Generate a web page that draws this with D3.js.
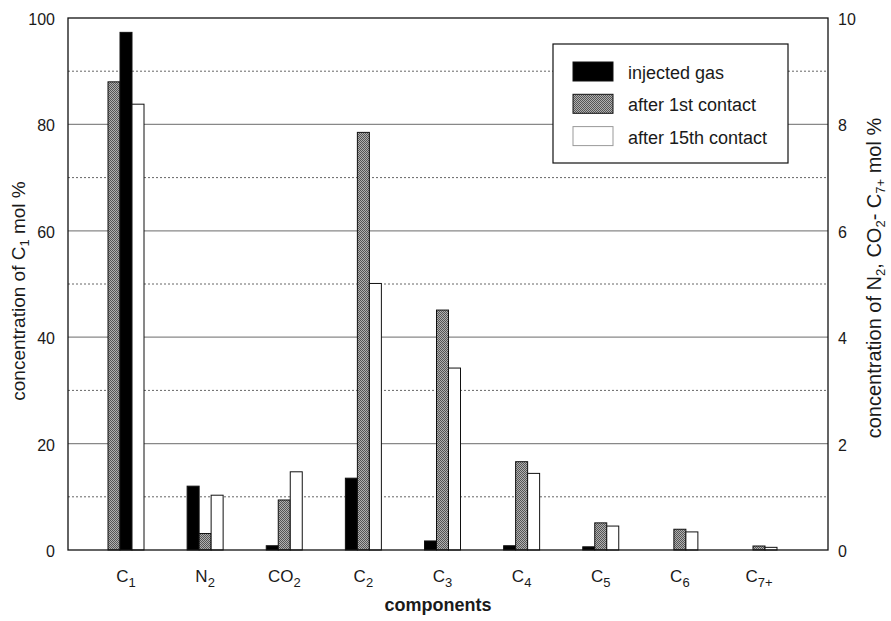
<!DOCTYPE html>
<html><head><meta charset="utf-8">
<script src="https://cdn.jsdelivr.net/npm/d3@7"></script>
<style>body{margin:0;background:#fff}svg{display:block}text{font-family:"Liberation Sans",Arial,Helvetica,sans-serif;fill:#1a1a1a}</style>
</head><body><svg id="c" width="891" height="621"></svg>
<script>
const categories = ["C1","N2","CO2","C2","C3","C4","C5","C6","C7+"];
const catBase = ["C","N","CO","C","C","C","C","C","C"];
const catSub = ["1","2","2","2","3","4","5","6","7+"];
// C1 read on left axis (0-100), others on right axis (0-10)
const injected = [97.3, 1.20, 0.08, 1.35, 0.17, 0.08, 0.06, 0, 0];
const first    = [88.0, 0.31, 0.94, 7.85, 4.51, 1.66, 0.51, 0.39, 0.075];
const fifteenth= [83.8, 1.03, 1.47, 5.01, 3.42, 1.44, 0.45, 0.34, 0.05];
const seriesNames = ["injected gas","after 1st contact","after 15th contact"];
const leftTicks = [0,20,40,60,80,100];
const rightTicks = [0,2,4,6,8,10];
const dottedLeft = [10,30,50,70,90];

const svg = d3.select("#c");
const L=68,R=828,T=18,B=550;
const yL = d3.scaleLinear().domain([0,100]).range([B,T]);
const yR = d3.scaleLinear().domain([0,10]).range([B,T]);
const x = d3.scalePoint().domain(categories).range([126,759]);
const bw = 12;

const defs = svg.append("defs");
const pat = defs.append("pattern").attr("id","stip").attr("width",2).attr("height",2).attr("patternUnits","userSpaceOnUse");
pat.append("rect").attr("width",2).attr("height",2).attr("fill","#b0b0b0");
pat.append("rect").attr("width",1).attr("height",1).attr("fill","#555");
pat.append("rect").attr("x",1).attr("y",1).attr("width",1).attr("height",1).attr("fill","#555");
const fills = ["#000","url(#stip)","#fff"];

// gridlines
svg.append("g").selectAll("line").data(leftTicks.filter(d=>d>0&&d<100)).join("line")
  .attr("x1",L).attr("x2",R).attr("y1",d=>yL(d)).attr("y2",d=>yL(d))
  .attr("stroke","#888").attr("stroke-width",1.2);
svg.append("g").selectAll("line").data(dottedLeft).join("line")
  .attr("x1",L).attr("x2",R).attr("y1",d=>yL(d)).attr("y2",d=>yL(d))
  .attr("stroke","#666").attr("stroke-width",1).attr("stroke-dasharray","2,2");

// bars
const series = [injected, first, fifteenth];
const g = svg.append("g");
categories.forEach((c,i)=>{
  const scale = i===0 ? yL : yR;
  // C1 group drawn gray, black, white; others black, gray, white
  const order = i===0 ? [1,0,2] : [0,1,2];
  order.forEach((s,k)=>{
    const v = series[s][i];
    if (v<=0) return;
    const x0 = x(c) - 1.5*bw + k*bw;
    g.append("rect").attr("x",x0).attr("y",scale(v)).attr("width",bw).attr("height",B-scale(v))
      .attr("fill",fills[s]).attr("stroke","#111").attr("stroke-width",1);
  });
});

// frame
svg.append("rect").attr("x",L).attr("y",T).attr("width",R-L).attr("height",B-T)
  .attr("fill","none").attr("stroke","#111").attr("stroke-width",1.3);

// axes labels
const fs = 16;
svg.append("g").selectAll("text").data(leftTicks).join("text")
  .attr("x",55).attr("y",d=>yL(d)+7).attr("text-anchor","end").attr("font-size",fs).text(d=>d);
svg.append("g").selectAll("text").data(rightTicks).join("text")
  .attr("x",838).attr("y",d=>yR(d)+7).attr("text-anchor","start").attr("font-size",fs).text(d=>d);

// category labels
const cl = svg.append("g").selectAll("text").data(categories).join("text")
  .attr("x",d=>x(d)).attr("y",582).attr("text-anchor","middle").attr("font-size",17);
cl.append("tspan").text((d,i)=>catBase[i]);
cl.append("tspan").attr("font-size",13).attr("dy",5).text((d,i)=>catSub[i]);

svg.append("text").attr("x",438).attr("y",611).attr("text-anchor","middle")
  .attr("font-size",18).attr("font-weight","bold").text("components");

// left title
const lt = svg.append("text").attr("transform","translate(25,291) rotate(-90)")
  .attr("text-anchor","middle").attr("font-size",19);
lt.append("tspan").text("concentration of C");
lt.append("tspan").attr("font-size",13).attr("dy",4).text("1");
lt.append("tspan").attr("dy",-4).text(" mol %");

// right title
const rt = svg.append("text").attr("transform","translate(881,278) rotate(-90)")
  .attr("text-anchor","middle").attr("font-size",20);
rt.append("tspan").text("concentration of N");
rt.append("tspan").attr("font-size",13).attr("dy",4).text("2");
rt.append("tspan").attr("dy",-4).text(", CO");
rt.append("tspan").attr("font-size",13).attr("dy",4).text("2");
rt.append("tspan").attr("dy",-4).text("- C");
rt.append("tspan").attr("font-size",13).attr("dy",4).text("7+");
rt.append("tspan").attr("dy",-4).text(" mol %");

// legend
const lg = svg.append("g");
lg.append("rect").attr("x",553).attr("y",44).attr("width",235).attr("height",119)
  .attr("fill","#fff").attr("stroke","#111").attr("stroke-width",1.2);
seriesNames.forEach((n,i)=>{
  const yy = 62 + i*32.3;
  lg.append("rect").attr("x",573).attr("y",yy).attr("width",40).attr("height",19)
    .attr("fill",fills[i]).attr("stroke",i===2?"#999":"#111").attr("stroke-width",1);
  lg.append("text").attr("x",628).attr("y",yy+17).attr("font-size",18).text(n);
});
</script></body></html>
